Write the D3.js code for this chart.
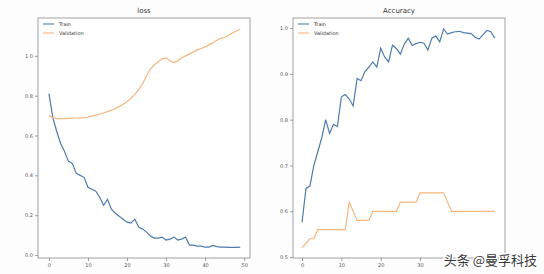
<!DOCTYPE html>
<meta charset="utf-8">
<style>
body { margin: 0; background: #fdfdfd; }
.line { fill: none; stroke-width: 1.2px; }
.tick text { font-family: "DejaVu Sans", sans-serif; font-size: 5px; fill: #555; }
.title { font-family: "DejaVu Sans", sans-serif; font-size: 7px; fill: #333; }
.leg { font-family: "DejaVu Sans", sans-serif; font-size: 5px; fill: #333; }
</style>
<body>
<script src="https://d3js.org/d3.v7.min.js"></script>
<script>

// data, one value per epoch
var epochs = d3.range(50);
var trainLoss = [0.81, 0.69, 0.62, 0.56, 0.52, 0.47, 0.46, 0.41, 0.40, 0.39,
  0.34, 0.33, 0.32, 0.29, 0.25, 0.28, 0.23, 0.21, 0.195, 0.18,
  0.165, 0.16, 0.18, 0.14, 0.13, 0.115, 0.095, 0.085, 0.085, 0.09,
  0.075, 0.08, 0.09, 0.075, 0.08, 0.09, 0.05, 0.05, 0.045, 0.045,
  0.04, 0.04, 0.048, 0.042, 0.04, 0.04, 0.038, 0.038, 0.038, 0.04];
var valLoss = [0.70, 0.69, 0.685, 0.685, 0.685, 0.686, 0.687, 0.688, 0.689, 0.69,
  0.692, 0.697, 0.702, 0.708, 0.713, 0.72, 0.727, 0.735, 0.745, 0.757,
  0.77, 0.787, 0.805, 0.83, 0.86, 0.9, 0.935, 0.955, 0.97, 0.985,
  0.99, 0.975, 0.965, 0.975, 0.99, 1.0, 1.01, 1.02, 1.03, 1.037,
  1.045, 1.055, 1.065, 1.078, 1.088, 1.092, 1.102, 1.115, 1.125, 1.135];
var trainAcc = [0.576, 0.65, 0.655, 0.70, 0.73, 0.76, 0.80, 0.77, 0.79, 0.785,
  0.85, 0.855, 0.845, 0.83, 0.89, 0.885, 0.905, 0.915, 0.926, 0.915,
  0.956, 0.937, 0.926, 0.963, 0.955, 0.943, 0.965, 0.978, 0.962, 0.966,
  0.969, 0.967, 0.952, 0.978, 0.983, 0.97, 0.998, 0.987, 0.99, 0.992,
  0.993, 0.99, 0.989, 0.988, 0.98, 0.976, 0.985, 0.995, 0.992, 0.978];
var valAcc = [0.52, 0.53, 0.54, 0.54, 0.56, 0.56, 0.56, 0.56, 0.56, 0.56,
  0.56, 0.56, 0.62, 0.60, 0.58, 0.58, 0.58, 0.58, 0.60, 0.60,
  0.60, 0.60, 0.60, 0.60, 0.60, 0.62, 0.62, 0.62, 0.62, 0.62,
  0.64, 0.64, 0.64, 0.64, 0.64, 0.64, 0.64, 0.62, 0.60, 0.60,
  0.60, 0.60, 0.60, 0.60, 0.60, 0.60, 0.60, 0.60, 0.60, 0.60];
var xTicks = [0, 10, 20, 30, 40, 50];
var lossTicks = [0.0, 0.2, 0.4, 0.6, 0.8, 1.0];
var accTicks = [0.5, 0.6, 0.7, 0.8, 0.9, 1.0];
var seriesNames = ["Train", "Validation"];
var colors = ["#4f7cac", "#f5b77e"];

var svg = d3.select("body").append("svg")
    .attr("width", 544)
    .attr("height", 274);

svg.append("rect").attr("width", 544).attr("height", 274).attr("fill", "#fdfdfd");

function panel(opts) {
  var x = d3.scaleLinear().domain(opts.xDomain).range([opts.left, opts.right]);
  var y = d3.scaleLinear().domain(opts.yDomain).range([opts.bottom, opts.top]);

  var g = svg.append("g");

  g.append("rect")
      .attr("x", opts.left).attr("y", opts.top)
      .attr("width", opts.right - opts.left).attr("height", opts.bottom - opts.top)
      .attr("fill", "#fff")
      .attr("stroke", "#8a8a8a")
      .attr("stroke-width", 0.8);

  // labels hidden under the watermark are left blank
  var xa = g.append("g")
      .attr("transform", "translate(0," + opts.bottom + ")")
      .call(d3.axisBottom(x).tickValues(xTicks).tickSize(3).tickPadding(2)
        .tickFormat(function(d) { return d > opts.xLabelMax ? "" : d; }));
  var ya = g.append("g")
      .attr("transform", "translate(" + opts.left + ",0)")
      .call(d3.axisLeft(y).tickValues(opts.yTicks).tickFormat(d3.format(".1f")).tickSize(3).tickPadding(2));
  [xa, ya].forEach(function(a) {
    a.select(".domain").remove();
    a.selectAll(".tick line").attr("stroke", "#777").attr("stroke-width", 0.7);
  });

  var line = d3.line()
      .x(function(d, i) { return x(epochs[i]); })
      .y(function(d) { return y(d); });

  opts.series.forEach(function(s, k) {
    g.append("path")
        .datum(s)
        .attr("class", "line")
        .attr("stroke", colors[k])
        .attr("d", line);
  });

  g.append("text")
      .attr("class", "title")
      .attr("x", (opts.left + opts.right) / 2)
      .attr("y", opts.top - 5)
      .attr("text-anchor", "middle")
      .text(opts.title);

  // legend
  seriesNames.forEach(function(n, k) {
    var ly = opts.top + 6 + k * 9;
    g.append("line")
        .attr("x1", opts.left + 5).attr("x2", opts.left + 16)
        .attr("y1", ly).attr("y2", ly)
        .attr("stroke", colors[k]).attr("stroke-width", 1.1);
    g.append("text")
        .attr("class", "leg")
        .attr("x", opts.left + 21).attr("y", ly)
        .attr("dy", "0.35em")
        .text(n);
  });
}

panel({
  title: "loss", left: 38, right: 250, top: 18, bottom: 258,
  xDomain: [-2.8, 51.5], yDomain: [-0.015, 1.19], yTicks: lossTicks,
  xLabelMax: 50, series: [trainLoss, valLoss]
});

panel({
  title: "Accuracy", left: 293, right: 505, top: 18, bottom: 258,
  xDomain: [-2.3, 51.6], yDomain: [0.498, 1.022], yTicks: accTicks,
  xLabelMax: 30, series: [trainAcc, valAcc]
});

// watermark
svg.append("text")
    .attr("x", 537).attr("y", 265)
    .attr("text-anchor", "end")
    .style("font-family", "'Noto Sans CJK SC', sans-serif")
    .style("font-size", "13px")
    .style("paint-order", "stroke")
    .attr("fill", "#3a3a3a")
    .attr("stroke", "#fff")
    .attr("stroke-width", 2.5)
    .text("头条 @曼孚科技");

</script>
</body>
